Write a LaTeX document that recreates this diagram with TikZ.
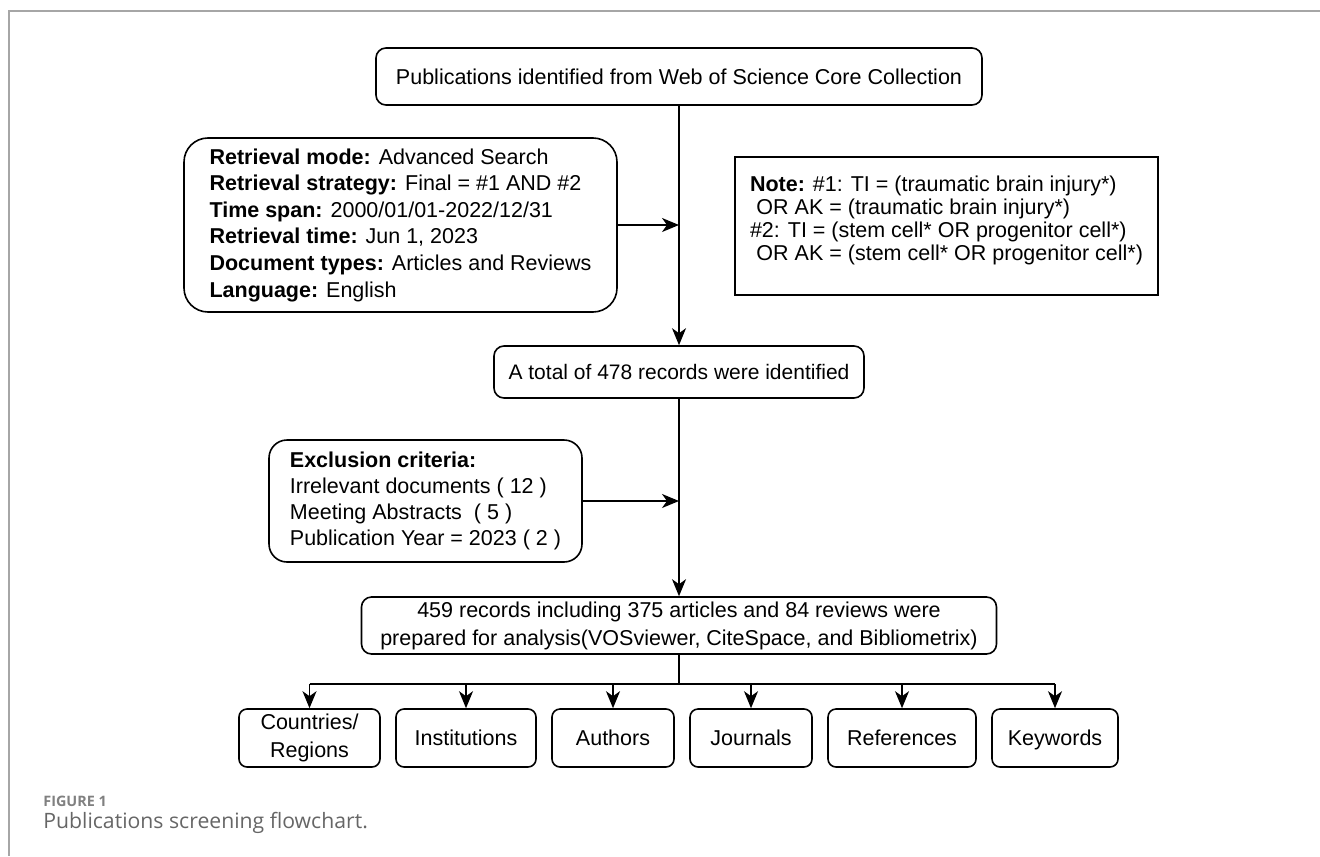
\documentclass[tikz,border=0pt]{standalone}
\usepackage{fontspec}
\setmainfont{Liberation Sans}
\newfontfamily\capfont{Open Sans}
\usetikzlibrary{arrows.meta}

\begin{document}
\begin{tikzpicture}
	[x=0.5pt, y=-0.5pt,
	box/.style={draw, line width=0.8pt, rounded corners=5pt, inner sep=0pt,
		font=\fontsize{10.75pt}{13.3pt}\selectfont, align=center},
	leaf/.style={box, rounded corners=4pt, minimum height=29pt,
		font=\fontsize{10.75pt}{14pt}\selectfont},
	word/.style={leaf, text height=7.7pt, text depth=0pt},
	link/.style={line width=0.8pt},
	arr/.style={link, -{Stealth[length=8.5pt, width=7pt, inset=2.5pt]}}]
	\useasboundingbox (0,0) rectangle (1320,856);
	\draw[black!35, line width=0.75pt] (1320,11) -- (9,11) -- (9,856);
	\node[box, minimum width=303pt, minimum height=28.5pt] (pub) at (679,76.5)
		{Publications identified from Web of Science Core Collection};
	\node[box, rounded corners=12pt, align=left, minimum width=216.5pt,
		minimum height=87pt] (retr) at (400.5,225)
		{\textbf{Retrieval mode:} Advanced Search\\
		\textbf{Retrieval strategy:} Final = \#1 AND \#2\\
		\textbf{Time span:} 2000/01/01-2022/12/31\\
		\textbf{Retrieval time:} Jun 1, 2023\\
		\textbf{Document types:} Articles and Reviews\\
		\textbf{Language:} English};
	\node[box, rounded corners=0pt, align=left, minimum width=211.5pt,
		minimum height=69pt, text depth=7.3pt,
		font=\fontsize{10.75pt}{11.5pt}\selectfont] (note) at (946.5,226)
		{\textbf{Note:} \#1: TI = (traumatic brain injury*)\\
		\hspace*{.3em}OR AK = (traumatic brain injury*)\\
		\#2: TI = (stem cell* OR progenitor cell*)\\
		\hspace*{.3em}OR AK = (stem cell* OR progenitor cell*)};
	\node[box, minimum width=185pt, minimum height=26pt,
		font=\fontsize{10.5pt}{13pt}\selectfont] (total) at (679,372)
		{A total of 478 records were identified};
	\node[box, rounded corners=9pt, align=left, minimum width=156.5pt,
		minimum height=61pt, font=\fontsize{10.75pt}{13pt}\selectfont] (excl) at (425.5,501)
		{\textbf{Exclusion criteria:}\\
		Irrelevant documents ( 12 )\\
		Meeting Abstracts~ ( 5 )\\
		Publication Year = 2023 ( 2 )};
	\node[box, minimum width=317.5pt, minimum height=28.5pt,
		font=\fontsize{10.75pt}{14pt}\selectfont] (res) at (679,625.5)
		{459 records including 375 articles and 84 reviews were\\
		prepared for analysis(VOSviewer, CiteSpace, and Bibliometrix)};
	\node[leaf, minimum width=70.5pt] (ctry) at (309.5,738) {Countries/\\Regions};
	\node[word, minimum width=70pt] (inst) at (466,738) {Institutions};
	\node[word, minimum width=61pt] (auth) at (613,738) {Authors};
	\node[word, minimum width=61pt] (jour) at (751,738) {Journals};
	\node[word, minimum width=74pt] (refs) at (902,738) {References};
	\node[word, minimum width=63pt] (kwds) at (1055,738) {Keywords};
	\draw[arr] (pub) -- (total);
	\draw[arr] (retr.east) -- (retr.east -| pub.south);
	\draw[arr] (total) -- (res);
	\draw[arr] (excl.east) -- (excl.east -| total.south);
	\draw[link] (res.south) -- ++(0,29) coordinate (split);
	\draw[link] (split -| ctry.north) -- (split -| kwds.north);
	\foreach \leafname in {ctry,inst,auth,jour,refs,kwds}
		\draw[arr] (split -| \leafname.north) -- (\leafname.north);
	\node[anchor=west, inner sep=0pt, text=black!50,
		font=\capfont\bfseries\fontsize{7.2pt}{8pt}\selectfont] (fig) at (43,801) {FIGURE 1};
	\node[anchor=west, inner sep=0pt, text=black!60,
		font=\capfont\fontsize{10.6pt}{12pt}\selectfont] (cap) at (43,823)
		{Publications screening flowchart.};
\end{tikzpicture}
\end{document}
